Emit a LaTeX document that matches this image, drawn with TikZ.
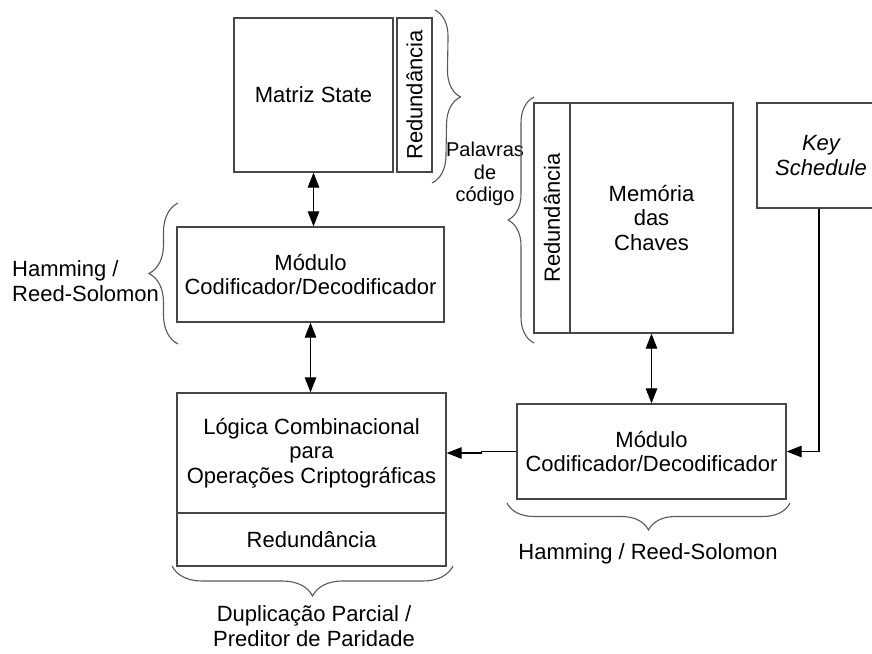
\documentclass[tikz,border=0pt]{standalone}
\usepackage{fontspec}
\setmainfont{Liberation Sans}
\usetikzlibrary{arrows.meta,decorations.pathreplacing,calc}
\begin{document}
\begin{tikzpicture}[x=1pt,y=-1pt,
  every node/.style={font=\fontsize{22}{24.5}\selectfont, align=center, inner sep=0pt},
  blk/.style={draw=black!72, line width=1.3pt},
  link/.style={draw=black, line width=1.1pt},
  dbl/.style={link, {Triangle[length=15pt,width=11.5pt]}-{Triangle[length=15pt,width=11.5pt]}},
  one/.style={link, -{Triangle[length=15pt,width=11.5pt]}},
  curly/.style={draw=black!65, line width=1.1pt, decorate,
    decoration={brace, amplitude=#1}}
]
\clip (0,0) rectangle (872,653);
\fill[white] (0,0) rectangle (872,653);

% state matrix with its redundancy column
\node[blk, minimum width=159pt, minimum height=154pt] (ms) at (313.5,95) {Matriz State};
\node[blk, minimum width=35pt, minimum height=154pt] (msr) at (414.5,95) {};
\node[rotate=90] at (msr.center) {Redundância};

% encoder / decoder next to the state
\node[blk, minimum width=267pt, minimum height=95pt] (m1) at (310.5,274.5) {Módulo\\Codificador/Decodificador};

% combinational logic with redundancy
\node[blk, minimum width=269pt, minimum height=120pt] (lg) at (311.5,453) {Lógica Combinacional\\para\\Operações Criptográficas};
\node[blk, minimum width=269pt, minimum height=53pt] (lgr) at (311.5,539.5) {Redundância};

% key memory with its redundancy column
\node[blk, minimum width=163pt, minimum height=230pt] (mem) at (651.5,218) {Memória\\das\\Chaves};
\node[blk, minimum width=36pt, minimum height=230pt] (memr) at (552,218) {};
\node[rotate=90] at (memr.center) {Redundância};

% encoder / decoder for the keys
\node[blk, minimum width=269pt, minimum height=95pt] (m2) at (651.5,451.5) {Módulo\\Codificador/Decodificador};

% key schedule block
\node[blk, minimum width=128pt, minimum height=105pt] (ks) at (821,155.5) {\itshape Key\\\itshape Schedule};

% connectors
\draw[dbl] (ms.south) -- (ms.south |- m1.north);
\draw[dbl] (m1.south) -- (m1.south |- lg.north);
\draw[dbl] (mem.south) -- (m2.north);
\coordinate (jog) at ($(m2.west)+(-35,0)$);
\draw[one] (m2.west) -- (jog) -- ++(0,1.5) -- (jog |- lg.east) -- (lg.east);
\coordinate (kstap) at ($(ks.south)+(-2,0)$);
\draw[one] (kstap) -- (kstap |- m2.east) -- (m2.east);

% braces
\draw[curly=27pt] (435,10) -- (432,183);
\coordinate (pw) at (485,174);
\node[font=\fontsize{20}{22.5}\selectfont] at (pw) {Palavras\\de\\código};
\draw[curly=29pt] (178,344) -- (178,203);
\node[align=left, anchor=west] (hl) at (12,281) {Hamming /\\Reed-Solomon};
\draw[curly=26pt] (534,343) -- (534,97);
\draw[curly=30pt] (453,566) -- (172,566);
\node at (314,626) {Duplicação Parcial /\\Preditor de Paridade};
\draw[curly=27pt] (790,503) -- (507,503);
\node at (648,554) {Hamming / Reed-Solomon};
\end{tikzpicture}
\end{document}
